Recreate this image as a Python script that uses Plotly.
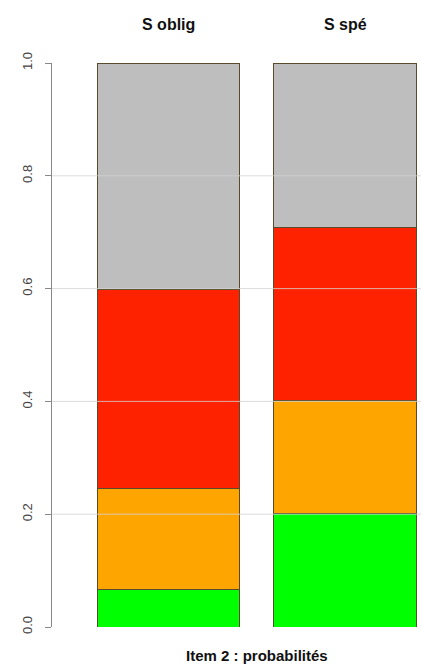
import plotly.graph_objects as go

groups = ["S oblig", "S spé"]
categories = ["vert", "orange", "rouge", "gris"]
values = {
    "vert":   [0.067, 0.202],
    "orange": [0.179, 0.199],
    "rouge":  [0.352, 0.308],
    "gris":   [0.402, 0.291],
}
colors = {"vert": "#00FF00", "orange": "#FFA500", "rouge": "#FF2200", "gris": "#BEBEBE"}
y_ticks = [0.0, 0.2, 0.4, 0.6, 0.8, 1.0]
y_tick_labels = ["0.0", "0.2", "0.4", "0.6", "0.8", "1.0"]
x_title = "Item 2 : probabilités"

xpos = list(range(len(groups)))

fig = go.Figure()
for c in categories:
    fig.add_trace(go.Bar(
        x=xpos, y=values[c], width=0.81,
        marker=dict(color=colors[c], line=dict(color="#5a4a2a", width=1)),
        name=c, showlegend=False, hoverinfo="skip",
    ))

# light grid lines drawn over the bars, as in the reference
for t in y_ticks[1:-1]:
    fig.add_shape(type="line", xref="paper", yref="y", x0=0, x1=1, y0=t, y1=t,
                  line=dict(color="rgba(210,210,210,0.8)", width=1), layer="above")

for i, g in enumerate(groups):
    fig.add_annotation(x=i, y=1, xref="x", yref="paper", text="<b>" + g + "</b>",
                       showarrow=False, yshift=49,
                       font=dict(family="Liberation Sans", size=16, color="#111111"))
fig.add_annotation(x=(xpos[0] + xpos[-1]) / 2, y=0, xref="x", yref="paper",
                   text="<b>" + x_title + "</b>", showarrow=False, yshift=-39,
                   font=dict(family="Liberation Sans", size=15, color="#111111"))

fig.update_layout(
    barmode="stack",
    width=421, height=669,
    margin=dict(l=52, r=0, t=63, b=42),
    paper_bgcolor="white", plot_bgcolor="white",
    font=dict(family="Liberation Sans", color="#333333"),
    xaxis=dict(range=[-0.660, 1.4306], showticklabels=False, showgrid=False,
               zeroline=False, showline=False, ticks=""),
    yaxis=dict(range=[0, 1], tickvals=y_ticks, ticktext=y_tick_labels,
               tickangle=-90, ticks="outside", ticklen=6, tickcolor="#888888",
               ticklabelstandoff=8,
               showline=True, linecolor="#888888", linewidth=1,
               showgrid=False, zeroline=False,
               tickfont=dict(size=13, color="#444444")),
)

fig.write_html("out.html", config={"displayModeBar": False},
               post_script="document.body.style.margin='0';")
